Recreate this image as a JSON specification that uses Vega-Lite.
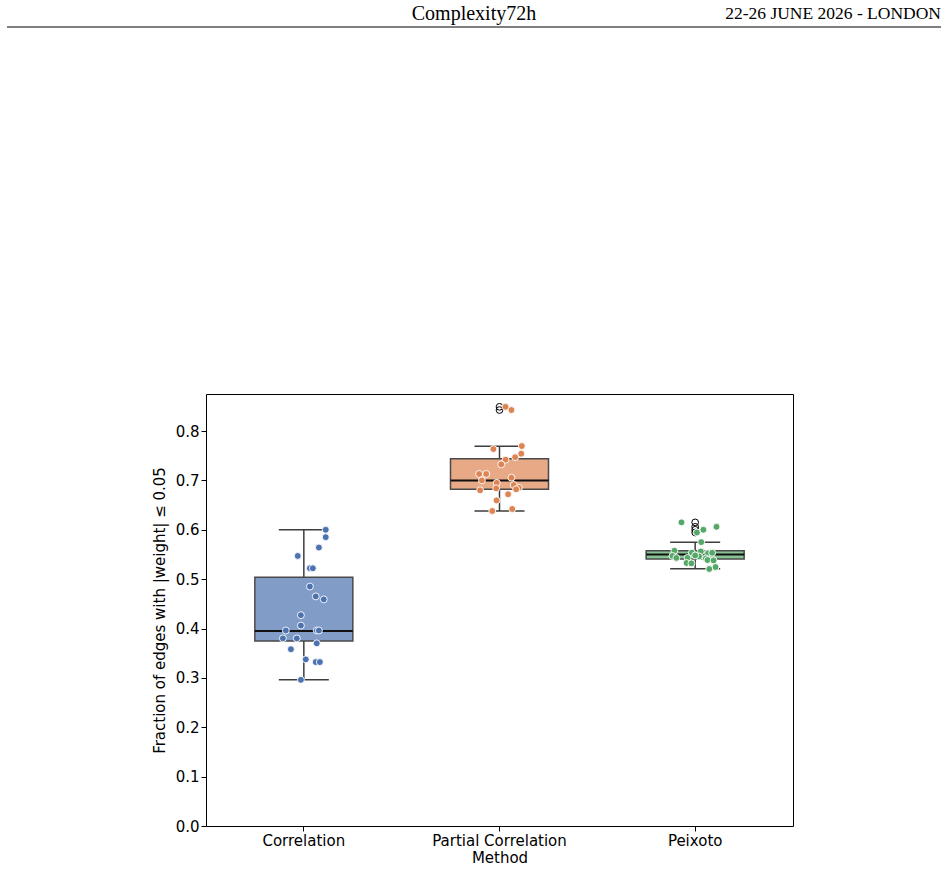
{
  "$schema": "https://vega.github.io/schema/vega-lite/v6.json",
  "background": "white",
  "padding": {"left": 6, "right": 7, "top": 0, "bottom": 5},
  "spacing": 365,
  "config": {
    "font": "DejaVu Sans",
    "view": {"stroke": null},
    "axis": {"labelFont": "DejaVu Sans", "titleFont": "DejaVu Sans", "labelColor": "#000", "titleColor": "#000", "tickColor": "#000", "labelFontSize": 15, "titleFontSize": 15, "titleFontWeight": "normal", "grid": false, "domain": false, "tickSize": 5, "tickWidth": 1}
  },
  "datasets": {
    "header": [{"center": "Complexity72h", "right": "22-26 JUNE 2026 - LONDON"}],
    "boxes": [
      {"method": "Correlation", "lo": 0.296, "q1": 0.3747, "med": 0.395, "q3": 0.504, "hi": 0.600},
      {"method": "Partial Correlation", "lo": 0.638, "q1": 0.682, "med": 0.700, "q3": 0.744, "hi": 0.769},
      {"method": "Peixoto", "lo": 0.521, "q1": 0.541, "med": 0.550, "q3": 0.5575, "hi": 0.5746}
    ],
    "fliers": [
      {"method": "Partial Correlation", "value": 0.849},
      {"method": "Partial Correlation", "value": 0.8425},
      {"method": "Peixoto", "value": 0.615},
      {"method": "Peixoto", "value": 0.606},
      {"method": "Peixoto", "value": 0.600},
      {"method": "Peixoto", "value": 0.5945}
    ],
    "points": [
      {"method": "Correlation", "value": 0.600, "jitter": 0.112},
      {"method": "Correlation", "value": 0.585, "jitter": 0.112},
      {"method": "Correlation", "value": 0.564, "jitter": 0.077},
      {"method": "Correlation", "value": 0.547, "jitter": -0.031},
      {"method": "Correlation", "value": 0.522, "jitter": 0.031},
      {"method": "Correlation", "value": 0.522, "jitter": 0.046},
      {"method": "Correlation", "value": 0.485, "jitter": 0.031},
      {"method": "Correlation", "value": 0.465, "jitter": 0.061},
      {"method": "Correlation", "value": 0.459, "jitter": 0.102},
      {"method": "Correlation", "value": 0.427, "jitter": -0.015},
      {"method": "Correlation", "value": 0.406, "jitter": -0.015},
      {"method": "Correlation", "value": 0.396, "jitter": -0.092},
      {"method": "Correlation", "value": 0.396, "jitter": 0.066},
      {"method": "Correlation", "value": 0.396, "jitter": 0.077},
      {"method": "Correlation", "value": 0.380, "jitter": -0.107},
      {"method": "Correlation", "value": 0.380, "jitter": -0.036},
      {"method": "Correlation", "value": 0.370, "jitter": 0.066},
      {"method": "Correlation", "value": 0.358, "jitter": -0.066},
      {"method": "Correlation", "value": 0.3375, "jitter": 0.010},
      {"method": "Correlation", "value": 0.332, "jitter": 0.061},
      {"method": "Correlation", "value": 0.332, "jitter": 0.082},
      {"method": "Correlation", "value": 0.296, "jitter": -0.015},
      {"method": "Partial Correlation", "value": 0.849, "jitter": 0.031},
      {"method": "Partial Correlation", "value": 0.8425, "jitter": 0.061},
      {"method": "Partial Correlation", "value": 0.7696, "jitter": 0.114},
      {"method": "Partial Correlation", "value": 0.7635, "jitter": -0.031},
      {"method": "Partial Correlation", "value": 0.754, "jitter": 0.111},
      {"method": "Partial Correlation", "value": 0.747, "jitter": 0.080},
      {"method": "Partial Correlation", "value": 0.742, "jitter": 0.031},
      {"method": "Partial Correlation", "value": 0.7325, "jitter": 0.009},
      {"method": "Partial Correlation", "value": 0.713, "jitter": -0.104},
      {"method": "Partial Correlation", "value": 0.713, "jitter": -0.068},
      {"method": "Partial Correlation", "value": 0.7055, "jitter": 0.061},
      {"method": "Partial Correlation", "value": 0.700, "jitter": -0.090},
      {"method": "Partial Correlation", "value": 0.695, "jitter": -0.014},
      {"method": "Partial Correlation", "value": 0.6906, "jitter": 0.073},
      {"method": "Partial Correlation", "value": 0.685, "jitter": 0.099},
      {"method": "Partial Correlation", "value": 0.684, "jitter": -0.017},
      {"method": "Partial Correlation", "value": 0.682, "jitter": 0.085},
      {"method": "Partial Correlation", "value": 0.680, "jitter": -0.099},
      {"method": "Partial Correlation", "value": 0.672, "jitter": 0.044},
      {"method": "Partial Correlation", "value": 0.6596, "jitter": -0.015},
      {"method": "Partial Correlation", "value": 0.642, "jitter": 0.065},
      {"method": "Partial Correlation", "value": 0.638, "jitter": -0.037},
      {"method": "Peixoto", "value": 0.615, "jitter": -0.070},
      {"method": "Peixoto", "value": 0.606, "jitter": 0.109},
      {"method": "Peixoto", "value": 0.600, "jitter": 0.042},
      {"method": "Peixoto", "value": 0.5945, "jitter": 0.009},
      {"method": "Peixoto", "value": 0.575, "jitter": 0.031},
      {"method": "Peixoto", "value": 0.5575, "jitter": -0.106},
      {"method": "Peixoto", "value": 0.556, "jitter": 0.029},
      {"method": "Peixoto", "value": 0.5534, "jitter": -0.017},
      {"method": "Peixoto", "value": 0.5523, "jitter": 0.066},
      {"method": "Peixoto", "value": 0.5534, "jitter": 0.087},
      {"method": "Peixoto", "value": 0.547, "jitter": -0.116},
      {"method": "Peixoto", "value": 0.543, "jitter": -0.096},
      {"method": "Peixoto", "value": 0.543, "jitter": -0.039},
      {"method": "Peixoto", "value": 0.546, "jitter": 0.020},
      {"method": "Peixoto", "value": 0.542, "jitter": 0.055},
      {"method": "Peixoto", "value": 0.5387, "jitter": 0.063},
      {"method": "Peixoto", "value": 0.538, "jitter": 0.094},
      {"method": "Peixoto", "value": 0.5327, "jitter": -0.044},
      {"method": "Peixoto", "value": 0.532, "jitter": -0.019},
      {"method": "Peixoto", "value": 0.5245, "jitter": 0.104},
      {"method": "Peixoto", "value": 0.5205, "jitter": 0.072},
      {"method": "Peixoto", "value": 0.548, "jitter": 0.0}
    ]
  },
  "vconcat": [
    {
      "width": 735,
      "height": 27,
      "data": {"name": "header"},
      "layer": [
        {"mark": {"type": "text", "font": "Liberation Serif", "fontSize": 20, "baseline": "middle", "color": "#000", "dx": -99.5}, "encoding": {"text": {"field": "center"}}},
        {"mark": {"type": "text", "font": "Liberation Serif", "fontSize": 17.5, "align": "right", "baseline": "middle", "color": "#000"}, "encoding": {"text": {"field": "right"}, "x": {"value": "width"}}},
        {"mark": {"type": "rule", "color": "#000", "strokeWidth": 1}, "encoding": {"y": {"value": "height"}, "x": {"value": -199}, "x2": {"value": "width"}}}
      ]
    },
    {
      "width": 587,
      "height": 432,
      "view": {"stroke": "#000", "strokeWidth": 1},
      "encoding": {
        "x": {"field": "method", "type": "nominal", "sort": ["Correlation", "Partial Correlation", "Peixoto"], "scale": {"paddingInner": 0, "paddingOuter": 0}, "axis": {"title": "Method", "labelAngle": 0, "labelPadding": 2, "titlePadding": 2}}
      },
      "layer": [
        {"data": {"name": "boxes"}, "mark": {"type": "rule", "color": "#3d3d3d", "strokeWidth": 1.5},
         "encoding": {"y": {"field": "lo", "type": "quantitative", "scale": {"domain": [0, 0.875], "nice": false, "zero": false}, "axis": {"title": "Fraction of edges with |weight| ≤ 0.05", "values": [0, 0.1, 0.2, 0.3, 0.4, 0.5, 0.6, 0.7, 0.8], "format": ".1f", "titlePadding": 8}}, "y2": {"field": "hi"}}},
        {"data": {"name": "boxes"}, "mark": {"type": "tick", "size": 50, "thickness": 1.5, "color": "#3d3d3d", "opacity": 1},
         "encoding": {"y": {"field": "lo", "type": "quantitative", "axis": {"title": "Fraction of edges with |weight| ≤ 0.05", "values": [0, 0.1, 0.2, 0.3, 0.4, 0.5, 0.6, 0.7, 0.8], "format": ".1f", "titlePadding": 8}}}},
        {"data": {"name": "boxes"}, "mark": {"type": "tick", "size": 50, "thickness": 1.5, "color": "#3d3d3d", "opacity": 1},
         "encoding": {"y": {"field": "hi", "type": "quantitative", "axis": {"title": "Fraction of edges with |weight| ≤ 0.05", "values": [0, 0.1, 0.2, 0.3, 0.4, 0.5, 0.6, 0.7, 0.8], "format": ".1f", "titlePadding": 8}}}},
        {"data": {"name": "boxes"}, "mark": {"type": "bar", "width": 98, "stroke": "#4a4a4a", "strokeWidth": 1.5, "opacity": 1},
         "encoding": {"y": {"field": "q1", "type": "quantitative", "axis": {"title": "Fraction of edges with |weight| ≤ 0.05", "values": [0, 0.1, 0.2, 0.3, 0.4, 0.5, 0.6, 0.7, 0.8], "format": ".1f", "titlePadding": 8}}, "y2": {"field": "q3"},
                      "color": {"field": "method", "type": "nominal", "scale": {"domain": ["Correlation", "Partial Correlation", "Peixoto"], "range": ["#829cc8", "#e7a986", "#88c295"]}, "legend": null}}},
        {"data": {"name": "boxes"}, "mark": {"type": "tick", "size": 98, "thickness": 2, "color": "#111111", "opacity": 1},
         "encoding": {"y": {"field": "med", "type": "quantitative", "axis": {"title": "Fraction of edges with |weight| ≤ 0.05", "values": [0, 0.1, 0.2, 0.3, 0.4, 0.5, 0.6, 0.7, 0.8], "format": ".1f", "titlePadding": 8}}}},
        {"data": {"name": "fliers"}, "mark": {"type": "point", "shape": "circle", "filled": false, "stroke": "#000", "size": 45, "strokeWidth": 1, "opacity": 1},
         "encoding": {"y": {"field": "value", "type": "quantitative", "axis": {"title": "Fraction of edges with |weight| ≤ 0.05", "values": [0, 0.1, 0.2, 0.3, 0.4, 0.5, 0.6, 0.7, 0.8], "format": ".1f", "titlePadding": 8}}}},
        {"data": {"name": "points"}, "mark": {"type": "circle", "size": 48, "stroke": "white", "strokeWidth": 0.9, "opacity": 1},
         "encoding": {"y": {"field": "value", "type": "quantitative", "axis": {"title": "Fraction of edges with |weight| ≤ 0.05", "values": [0, 0.1, 0.2, 0.3, 0.4, 0.5, 0.6, 0.7, 0.8], "format": ".1f", "titlePadding": 8}},
                      "xOffset": {"field": "jitter", "type": "quantitative", "scale": {"domain": [-0.5, 0.5]}},
                      "color": {"field": "method", "type": "nominal", "scale": {"domain": ["Correlation", "Partial Correlation", "Peixoto"], "range": ["#4c72b0", "#dd8452", "#55a868"]}, "legend": null}}}
      ],
      "resolve": {"scale": {"color": "independent"}}
    }
  ]
}
